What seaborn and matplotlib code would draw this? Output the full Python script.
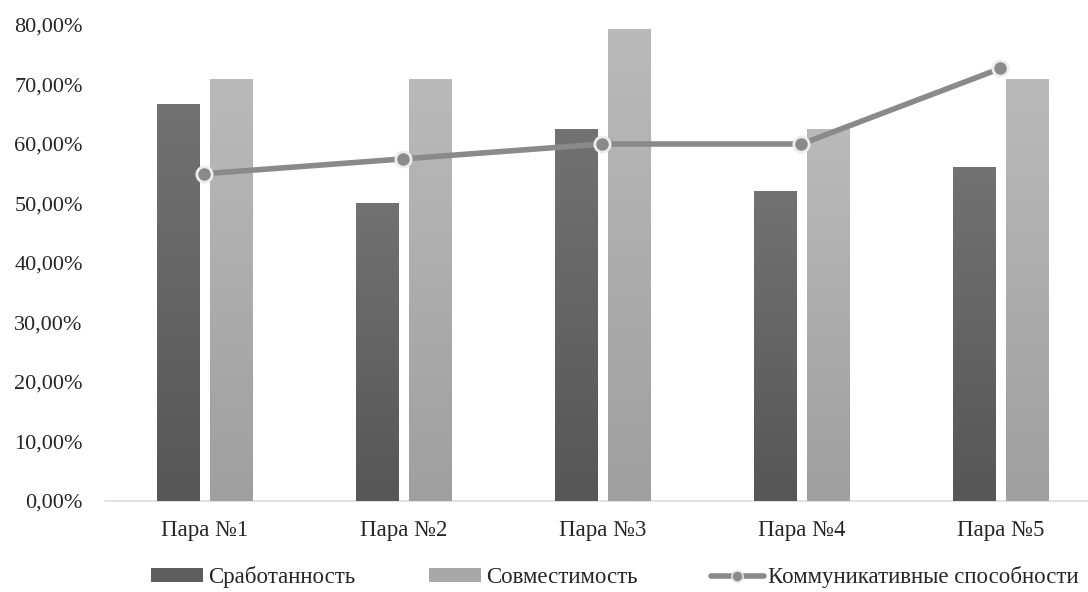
import numpy as np
import pandas as pd
import matplotlib
matplotlib.use("Agg")
import matplotlib.pyplot as plt
from matplotlib.colors import LinearSegmentedColormap
from matplotlib.patches import Patch
from matplotlib.lines import Line2D
import seaborn as sns

categories = ["Пара №1", "Пара №2", "Пара №3", "Пара №4", "Пара №5"]
srabotannost = [66.7, 50.0, 62.5, 52.0, 56.0]
sovmestimost = [70.8, 70.8, 79.2, 62.5, 70.8]
kommunikativ = [55.0, 57.5, 60.0, 60.0, 72.7]
series_names = ["Сработанность", "Совместимость", "Коммуникативные способности"]
yticks = [0, 10, 20, 30, 40, 50, 60, 70, 80]

sns.set_theme(style="white")
plt.rcParams["font.family"] = ["Liberation Serif", "DejaVu Serif"]

dark_top, dark_bot = "#727272", "#565656"
light_top, light_bot = "#bababa", "#9f9f9f"
line_col = "#8a8a8a"

df = pd.DataFrame({
    "cat": categories * 2,
    "val": srabotannost + sovmestimost,
    "series": [series_names[0]] * 5 + [series_names[1]] * 5,
})

fig = plt.figure(figsize=(10.88, 5.92), dpi=100)
ax = fig.add_axes([105 / 1088, 1 - 501 / 592, 1 - 105 / 1088, (501 - 25) / 592])

sns.barplot(data=df, x="cat", y="val", hue="series", palette=[dark_bot, light_bot],
            width=0.53, gap=0.2, ax=ax, legend=False, zorder=2)

# gradient fill on each bar
grad = np.linspace(0, 1, 256).reshape(-1, 1)
cmaps = [LinearSegmentedColormap.from_list("d", [dark_bot, dark_top]),
         LinearSegmentedColormap.from_list("l", [light_bot, light_top])]
for i, p in enumerate(ax.patches):
    x, w, h = p.get_x(), p.get_width(), p.get_height()
    if h <= 0:
        continue
    cm = cmaps[0] if i < len(categories) else cmaps[1]
    ax.imshow(grad, extent=[x, x + w, 0, h], origin="lower", cmap=cm,
              aspect="auto", zorder=3, interpolation="bilinear")

sns.pointplot(x=categories, y=kommunikativ, color=line_col, ax=ax, markers="o",
              linewidth=4, markersize=11, markeredgecolor="#ececec",
              markeredgewidth=2, zorder=5)
for coll in ax.collections:
    coll.set_zorder(6)
for ln in ax.lines:
    ln.set_zorder(6)

ax.set_xlim(-0.5, 4.44)
ax.set_ylim(0, 80)
ax.set_yticks(yticks)
ax.set_yticklabels([f"{v:.2f}%".replace(".", ",") for v in yticks], fontsize=16, color="#262626")
ax.tick_params(axis="x", labelsize=16.5, colors="#262626", length=0, pad=14)
ax.tick_params(axis="y", length=0, pad=16)
ax.set_xlabel("")
ax.set_ylabel("")
for s in ["top", "right", "left"]:
    ax.spines[s].set_visible(False)
ax.spines["bottom"].set_color("#d9dee5")
ax.spines["bottom"].set_linewidth(1.2)

handles = [
    Patch(facecolor="#5e5e5e", edgecolor="none"),
    Patch(facecolor="#a8a8a8", edgecolor="none"),
    Line2D([], [], color=line_col, linewidth=4, marker="o", markersize=8,
           markeredgecolor="#e6e6e6", markeredgewidth=1.2),
]
fig.legend(handles, series_names, loc="center", bbox_to_anchor=(0.565, 0.025),
           ncol=3, frameon=False, fontsize=16.5, handlelength=2.3, handleheight=0.55,
           columnspacing=3.2, handletextpad=0.2)

fig.savefig("out.png", dpi=100)
